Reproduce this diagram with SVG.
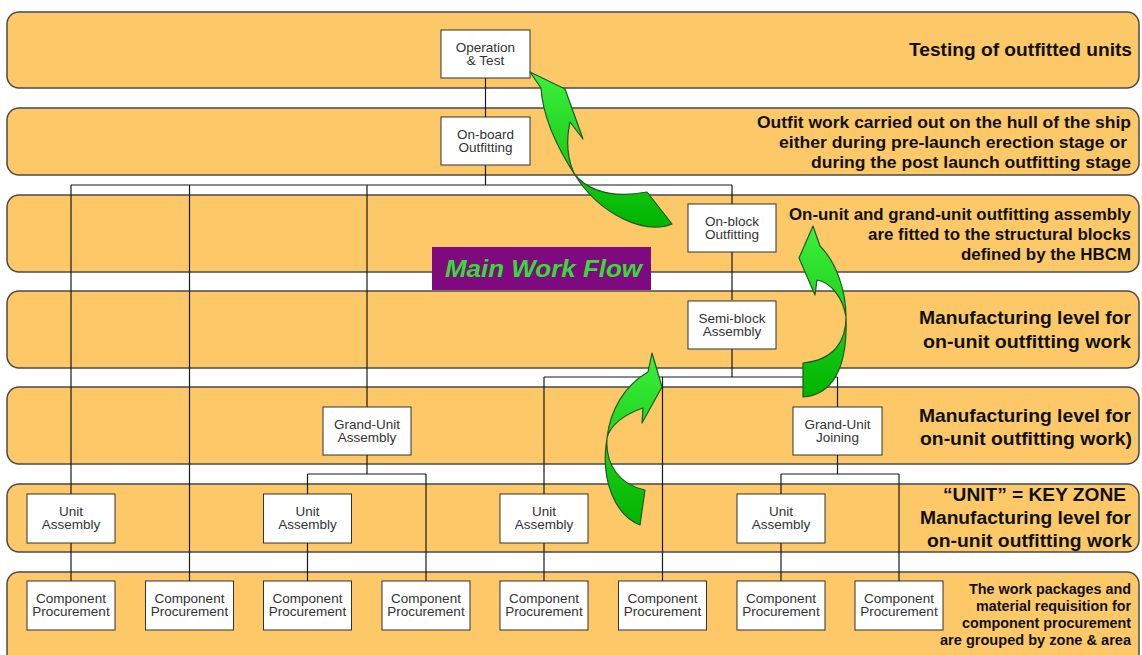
<svg xmlns="http://www.w3.org/2000/svg" width="1142" height="655" viewBox="0 0 1142 655">
  <defs>
    <linearGradient id="arrowFill" x1="0" y1="0" x2="0" y2="1">
      <stop offset="0" stop-color="#3cf03c"/>
      <stop offset="1" stop-color="#00b400"/>
    </linearGradient>
    <style>
      .band { fill: #fcc868; stroke: #4a4a4a; stroke-width: 1.5; }
      .box { fill: #ffffff; stroke: #333333; stroke-width: 1; }
      .node-text { font-family: "Liberation Sans", Arial, sans-serif; font-size: 13.5px; fill: #333333; text-anchor: middle; }
      .wire { fill: none; stroke: #1a1a1a; stroke-width: 1.2; }
      .flow { fill: url(#arrowFill); stroke: #1e5a1e; stroke-width: 1.2; stroke-linejoin: round; }
      .lvl { font-family: "Liberation Sans", Arial, sans-serif; font-weight: bold; fill: #111111; text-anchor: end; }
      .lvl-l { font-size: 19px; }
      .lvl-m { font-size: 16px; }
      .lvl-s { font-size: 14px; }
    </style>
  </defs>

  <rect width="1142" height="655" fill="#ffffff"/>

  <!-- horizontal level bands -->
  <g id="bands">
    <rect class="band" x="7" y="12" width="1132" height="76" rx="12"/>
    <rect class="band" x="7" y="108" width="1132" height="67" rx="12"/>
    <rect class="band" x="7" y="195" width="1132" height="77" rx="12"/>
    <rect class="band" x="7" y="291" width="1132" height="77" rx="12"/>
    <rect class="band" x="7" y="387" width="1132" height="77" rx="12"/>
    <rect class="band" x="7" y="484" width="1132" height="68" rx="12"/>
    <rect class="band" x="7" y="572" width="1132" height="100" rx="12"/>
  </g>

  <!-- tree connectors -->
  <g id="connectors">
    <path class="wire" d="M485.5 78 V117"/>
    <path class="wire" d="M485.5 165 V185 M71 185 H732 M71 185 V494 M189.5 185 V581 M367 185 V407 M732 185 V204"/>
    <path class="wire" d="M732 252 V300"/>
    <path class="wire" d="M732 349 V377 M544 377 H837.5 M544 377 V494 M662.5 377 V581 M837.5 377 V407"/>
    <path class="wire" d="M367 455 V474 M307.5 474 H426 M307.5 474 V494 M426 474 V581"/>
    <path class="wire" d="M837.5 455 V474 M781 474 H899 M781 474 V494 M899 474 V581"/>
    <path class="wire" d="M71 543 V581 M307.5 543 V581 M544 543 V581 M781 543 V581"/>
  </g>

  <!-- nodes -->
  <g id="operation-test">
    <rect class="box" x="441" y="30" width="89" height="48"/>
    <text class="node-text" x="485.5" y="51.7">Operation</text>
    <text class="node-text" x="485.5" y="65">&amp; Test</text>
  </g>
  <g id="on-board-outfitting">
    <rect class="box" x="441" y="117" width="89" height="48"/>
    <text class="node-text" x="485.5" y="138.5">On-board</text>
    <text class="node-text" x="485.5" y="152">Outfitting</text>
  </g>
  <g id="on-block-outfitting">
    <rect class="box" x="688" y="204" width="88" height="48"/>
    <text class="node-text" x="732" y="225.5">On-block</text>
    <text class="node-text" x="732" y="239">Outfitting</text>
  </g>
  <g id="semi-block-assembly">
    <rect class="box" x="688" y="301" width="88" height="48"/>
    <text class="node-text" x="732" y="322.5">Semi-block</text>
    <text class="node-text" x="732" y="336">Assembly</text>
  </g>
  <g id="grand-unit-assembly">
    <rect class="box" x="323" y="407" width="88" height="48"/>
    <text class="node-text" x="367" y="428.5">Grand-Unit</text>
    <text class="node-text" x="367" y="442">Assembly</text>
  </g>
  <g id="grand-unit-joining">
    <rect class="box" x="793" y="407" width="89" height="48"/>
    <text class="node-text" x="837.5" y="428.5">Grand-Unit</text>
    <text class="node-text" x="837.5" y="442">Joining</text>
  </g>

  <g id="unit-assembly-1">
    <rect class="box" x="27" y="494" width="88" height="49"/>
    <text class="node-text" x="71" y="515.5">Unit</text>
    <text class="node-text" x="71" y="529">Assembly</text>
  </g>
  <g id="unit-assembly-2">
    <rect class="box" x="263.5" y="494" width="88" height="49"/>
    <text class="node-text" x="307.5" y="515.5">Unit</text>
    <text class="node-text" x="307.5" y="529">Assembly</text>
  </g>
  <g id="unit-assembly-3">
    <rect class="box" x="500" y="494" width="88" height="49"/>
    <text class="node-text" x="544" y="515.5">Unit</text>
    <text class="node-text" x="544" y="529">Assembly</text>
  </g>
  <g id="unit-assembly-4">
    <rect class="box" x="737" y="494" width="88" height="49"/>
    <text class="node-text" x="781" y="515.5">Unit</text>
    <text class="node-text" x="781" y="529">Assembly</text>
  </g>

  <g id="component-procurement-1">
    <rect class="box" x="27" y="581" width="88" height="49"/>
    <text class="node-text" x="71" y="602.5">Component</text>
    <text class="node-text" x="71" y="616">Procurement</text>
  </g>
  <g id="component-procurement-2">
    <rect class="box" x="145.5" y="581" width="88" height="49"/>
    <text class="node-text" x="189.5" y="602.5">Component</text>
    <text class="node-text" x="189.5" y="616">Procurement</text>
  </g>
  <g id="component-procurement-3">
    <rect class="box" x="263.5" y="581" width="88" height="49"/>
    <text class="node-text" x="307.5" y="602.5">Component</text>
    <text class="node-text" x="307.5" y="616">Procurement</text>
  </g>
  <g id="component-procurement-4">
    <rect class="box" x="382" y="581" width="88" height="49"/>
    <text class="node-text" x="426" y="602.5">Component</text>
    <text class="node-text" x="426" y="616">Procurement</text>
  </g>
  <g id="component-procurement-5">
    <rect class="box" x="500" y="581" width="88" height="49"/>
    <text class="node-text" x="544" y="602.5">Component</text>
    <text class="node-text" x="544" y="616">Procurement</text>
  </g>
  <g id="component-procurement-6">
    <rect class="box" x="618.5" y="581" width="88" height="49"/>
    <text class="node-text" x="662.5" y="602.5">Component</text>
    <text class="node-text" x="662.5" y="616">Procurement</text>
  </g>
  <g id="component-procurement-7">
    <rect class="box" x="737" y="581" width="88" height="49"/>
    <text class="node-text" x="781" y="602.5">Component</text>
    <text class="node-text" x="781" y="616">Procurement</text>
  </g>
  <g id="component-procurement-8">
    <rect class="box" x="855" y="581" width="88" height="49"/>
    <text class="node-text" x="899" y="602.5">Component</text>
    <text class="node-text" x="899" y="616">Procurement</text>
  </g>

  <!-- main work flow banner -->
  <g id="main-work-flow">
    <rect x="432" y="247" width="219" height="43" fill="#7f0a80"/>
    <text x="445" y="277" font-family="Liberation Sans, Arial, sans-serif" font-size="24" font-weight="bold" font-style="italic" fill="#33dd33" textLength="197" lengthAdjust="spacingAndGlyphs">Main Work Flow</text>
  </g>

  <!-- curved flow arrows -->
  <g id="flow-arrows">
    <path class="flow" d="M530 72 L565 89 L583 139 L570 122 C566 140 567 160 575 175 C590 192 615 198 647 192 L672 224 C645 235 600 215 575 175 C560 152 543 120 541 88 Z"/>
    <path class="flow" d="M813 226 L820 246 C836 262 846 290 846 317 C846 340 835 360 803 363 L803 397 C830 395 848 372 846 317 C843 297 830 282 817 280 L815 295 L799 258 Z"/>
    <path class="flow" d="M652 353 L662 387 L642 423 L643 408 C625 414 610 425 607 438 C605 465 620 485 645 490 L640 525 C615 515 600 480 607 438 C610 410 625 385 648 372 Z"/>
  </g>

  <!-- level descriptions -->
  <g id="level-labels">
    <text class="lvl" x="1132" y="56" font-size="18" textLength="223" lengthAdjust="spacingAndGlyphs">Testing of outfitted units</text>

    <text class="lvl lvl-m" x="1131" y="128" textLength="374" lengthAdjust="spacingAndGlyphs">Outfit work carried out on the hull of the ship</text>
    <text class="lvl lvl-m" x="1127" y="148" textLength="348" lengthAdjust="spacingAndGlyphs">either during pre-launch erection stage or</text>
    <text class="lvl lvl-m" x="1131" y="168" textLength="320" lengthAdjust="spacingAndGlyphs">during the post launch outfitting stage</text>

    <text class="lvl lvl-m" x="1131" y="220" textLength="342" lengthAdjust="spacingAndGlyphs">On-unit and grand-unit outfitting assembly</text>
    <text class="lvl lvl-m" x="1131" y="240" textLength="263" lengthAdjust="spacingAndGlyphs">are fitted to the structural blocks</text>
    <text class="lvl lvl-m" x="1131" y="260" textLength="170" lengthAdjust="spacingAndGlyphs">defined by the HBCM</text>

    <text class="lvl lvl-l" x="1131" y="324" textLength="212" lengthAdjust="spacingAndGlyphs">Manufacturing level for</text>
    <text class="lvl lvl-l" x="1131" y="348" textLength="208" lengthAdjust="spacingAndGlyphs">on-unit outfitting work</text>

    <text class="lvl lvl-l" x="1131" y="421.5" textLength="212" lengthAdjust="spacingAndGlyphs">Manufacturing level for</text>
    <text class="lvl lvl-l" x="1132" y="445" textLength="212" lengthAdjust="spacingAndGlyphs">on-unit outfitting work)</text>

    <text class="lvl lvl-l" x="1126" y="501" textLength="183" lengthAdjust="spacingAndGlyphs">“UNIT” = KEY ZONE</text>
    <text class="lvl lvl-l" x="1131" y="524" textLength="211" lengthAdjust="spacingAndGlyphs">Manufacturing level for</text>
    <text class="lvl lvl-l" x="1132" y="547" textLength="205" lengthAdjust="spacingAndGlyphs">on-unit outfitting work</text>

    <text class="lvl lvl-s" x="1131" y="594" textLength="162" lengthAdjust="spacingAndGlyphs">The work packages and</text>
    <text class="lvl lvl-s" x="1131" y="611" textLength="155" lengthAdjust="spacingAndGlyphs">material requisition for</text>
    <text class="lvl lvl-s" x="1131" y="628" textLength="169" lengthAdjust="spacingAndGlyphs">component procurement</text>
    <text class="lvl lvl-s" x="1131" y="645" textLength="191" lengthAdjust="spacingAndGlyphs">are grouped by zone &amp; area</text>
  </g>
</svg>
